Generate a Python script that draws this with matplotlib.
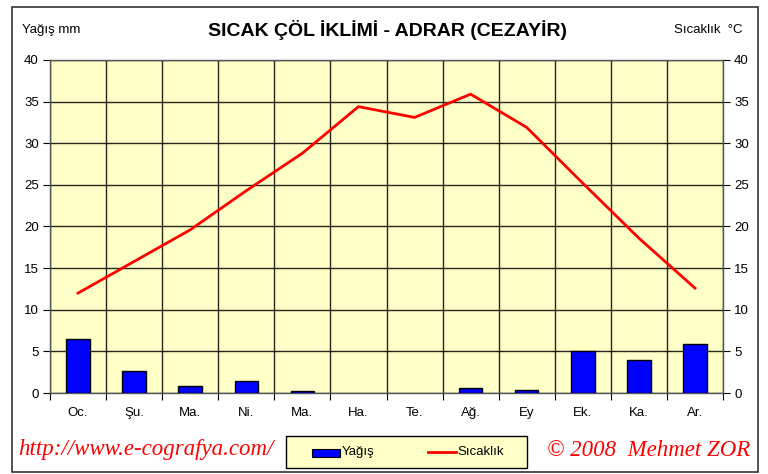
import matplotlib
matplotlib.use("Agg")
import matplotlib.pyplot as plt
import numpy as np
from matplotlib.patches import Rectangle

plt.rcParams["font.family"] = ["Liberation Sans", "DejaVu Sans"]

months = ["Oc.", "Şu.", "Ma.", "Ni.", "Ma.", "Ha.", "Te.", "Ağ.", "Ey", "Ek.", "Ka.", "Ar."]
precip = [6.5, 2.6, 0.8, 1.4, 0.2, 0.0, 0.0, 0.6, 0.4, 5.0, 4.0, 5.9]
temp = [12.0, 15.8, 19.6, 24.3, 28.8, 34.4, 33.1, 35.9, 31.9, 25.2, 18.6, 12.6]
yticks = [0, 5, 10, 15, 20, 25, 30, 35, 40]

W, H = 768, 474
fig = plt.figure(figsize=(W / 100, H / 100), dpi=100)
fig.patch.set_facecolor("white")

# outer frame
fig.add_artist(Rectangle((12 / W, 1 - 472 / H), (758 - 12) / W, (472 - 7) / H,
                         transform=fig.transFigure, fill=False, edgecolor="#333333", lw=1.2))

L, R, T, B = 50, 723, 60, 393
ax = fig.add_axes([L / W, 1 - B / H, (R - L) / W, (B - T) / H])
ax.set_facecolor("#FFFFC8")
x = np.arange(len(months))
bars = ax.bar(x, precip, width=0.42, color="#0000FF", edgecolor="black", linewidth=1, zorder=3)
for b, v in zip(bars, precip):
    if v == 0:
        b.set_linewidth(0)
ax.plot(x, temp, color="#FF0000", lw=2, zorder=4)
ax.set_xlim(-0.5, len(months) - 0.5)
ax.set_ylim(0, 40)
ax.set_yticks(yticks)
ax.set_yticklabels([str(v) for v in yticks], fontsize=9.5)
ax.set_xticks(np.arange(len(months) + 1) - 0.5)
ax.set_xticklabels([])
ax.set_xticks(x, minor=True)
ax.set_xticklabels(months, minor=True, fontsize=9.5)
ax.tick_params(axis="x", which="minor", length=0, pad=10)
ax.tick_params(axis="x", which="major", length=5, direction="out", color="black")
ax.tick_params(axis="y", length=5, direction="out", right=True, labelright=True, pad=3)
ax.grid(True, which="major", color="black", lw=1, alpha=0.85, zorder=1)
ax.set_axisbelow(True)
for s in ax.spines.values():
    s.set_color("#555555")
    s.set_linewidth(1)

fig.text(387 / W, 1 - 30 / H, "SICAK ÇÖL İKLİMİ - ADRAR (CEZAYİR)", ha="center", va="center",
         fontsize=14, fontweight="bold")
fig.text(22 / W, 1 - 30 / H, "Yağış mm", ha="left", va="center", fontsize=9.5)
fig.text(743 / W, 1 - 30 / H, "Sıcaklık  °C", ha="right", va="center", fontsize=9.5)

# legend
fig.add_artist(Rectangle((286 / W, 1 - 468 / H), (527 - 286) / W, (468 - 436) / H,
                         transform=fig.transFigure, facecolor="#FFFFC8", edgecolor="black", lw=1))
fig.add_artist(Rectangle((312 / W, 1 - 457 / H), 28 / W, 8 / H, transform=fig.transFigure,
                         facecolor="#0000FF", edgecolor="black", lw=0.8))
fig.text(342 / W, 1 - 452 / H, "Yağış", ha="left", va="center", fontsize=9.5)
fig.add_artist(plt.Line2D([428 / W, 456 / W], [1 - 452 / H, 1 - 452 / H], transform=fig.transFigure,
                          color="#FF0000", lw=2))
fig.text(457 / W, 1 - 452 / H, "Sıcaklık", ha="left", va="center", fontsize=9.5)

fig.text(18 / W, 1 - 450 / H, "http://www.e-cografya.com/", ha="left", va="center", fontsize=16.5,
         color="#FF0000", style="italic", family="Liberation Serif")
fig.text(750 / W, 1 - 450 / H, "© 2008  Mehmet ZOR", ha="right", va="center", fontsize=16.5,
         color="#FF0000", style="italic", family="Liberation Serif")

fig.savefig("out.png", dpi=100)
